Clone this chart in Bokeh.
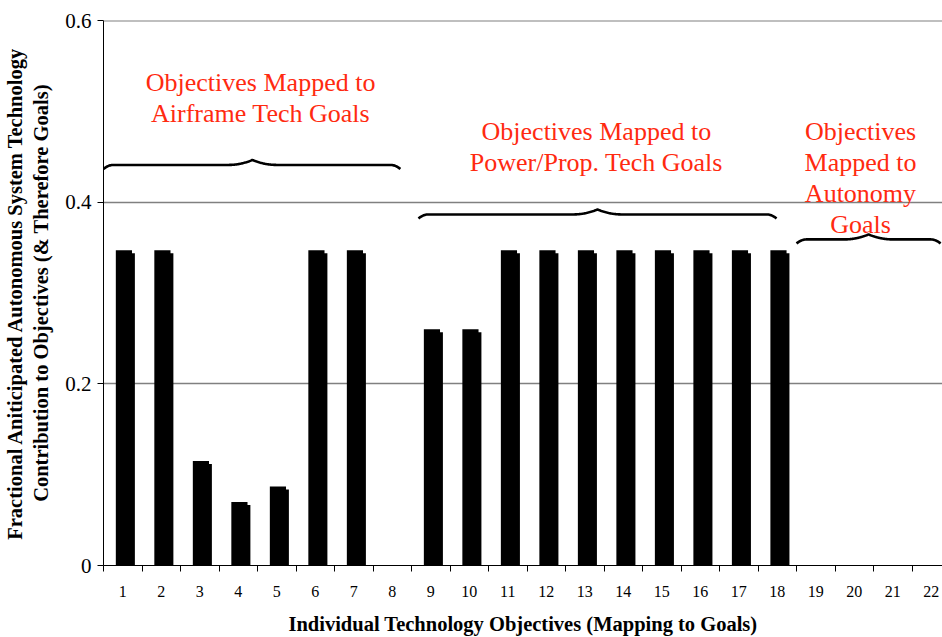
import numpy as np
from bokeh.plotting import figure
from bokeh.models import Range1d, FixedTicker, ColumnDataSource, Span
from bokeh.core.properties import value
from bokeh.embed import file_html
from bokeh.resources import INLINE

# ---- data ----
objectives = list(range(1, 23))
contribution = [0.347, 0.347, 0.115, 0.070, 0.087, 0.347, 0.347, 0.0,
                0.260, 0.260, 0.347, 0.347, 0.347, 0.347, 0.347, 0.347,
                0.347, 0.347, 0.0, 0.0, 0.0, 0.0]
y_ticks = [0, 0.2, 0.4, 0.6]
y_tick_labels = ["0", "0.2", "0.4", "0.6"]

group_lines = [
    ["Objectives Mapped to", "Airframe Tech Goals"],
    ["Objectives Mapped to", "Power/Prop. Tech Goals"],
    ["Objectives", "Mapped to", "Autonomy", "Goals"],
]
group_text_x = [4.58, 13.3, 20.16]
group_text_top = [0.532, 0.478, 0.478]
# brace: start, end, peak x, base y
brace_x0 = [0.5, 8.68, 18.5]
brace_x1 = [8.21, 17.98, 22.24]
brace_xm = [4.37, 13.33, 20.37]
brace_y = [0.441, 0.3865, 0.359]

SERIF = "Liberation Serif"
RED = "#ff2a10"

p = figure(width=942, height=637, output_backend="svg", toolbar_location=None,
           x_range=Range1d(0.5, 22.29), y_range=Range1d(0, 0.6),
           min_border_left=103, min_border_top=20, min_border_bottom=71,
           min_border_right=0)
p.outline_line_color = None
p.background_fill_color = "white"
p.border_fill_color = "white"

# bars (slight 3D look: two overlapping rectangles)
px_y = 0.6 / 546.0
vals = np.array(contribution)
src = ColumnDataSource(dict(
    xb=np.array(objectives) + 0.03,
    xf=np.array(objectives) + 0.105,
    top_b=vals,
    top_f=np.maximum(vals - 3 * px_y, 0),
))
p.vbar(x="xb", top="top_b", bottom=0, width=0.42, source=src,
       fill_color="black", line_color=None)
p.vbar(x="xf", top="top_f", bottom=0, width=0.42, source=src,
       fill_color="black", line_color=None)

# axes
xt = FixedTicker(ticks=objectives, minor_ticks=[i + 0.5 for i in range(0, 23)])
p.xaxis.ticker = xt
p.xaxis.major_tick_out = 0
p.xaxis.major_tick_in = 0
p.xaxis.minor_tick_out = 6
p.xaxis.minor_tick_in = 0
p.xaxis.major_label_text_font = SERIF
p.xaxis.major_label_text_font_size = "16px"
p.xaxis.major_label_text_color = "black"
p.xaxis.major_label_standoff = 14
p.xaxis.axis_label = "Individual Technology Objectives (Mapping to Goals)"
p.xaxis.axis_label_text_font = SERIF
p.xaxis.axis_label_text_font_style = "bold"
p.xaxis.axis_label_text_font_size = "20.5px"
p.xaxis.axis_label_text_color = "black"
p.xaxis.axis_label_standoff = 13
p.xaxis.axis_line_color = "black"

p.yaxis.ticker = FixedTicker(ticks=y_ticks)
p.yaxis.major_label_overrides = {t: l for t, l in zip(y_ticks, y_tick_labels)}
p.yaxis.minor_tick_out = 0
p.yaxis.minor_tick_in = 0
p.yaxis.major_tick_out = 6
p.yaxis.major_tick_in = 0
p.yaxis.major_label_text_font = SERIF
p.yaxis.major_label_text_font_size = "21px"
p.yaxis.major_label_text_color = "black"
p.yaxis.major_label_standoff = 6
p.yaxis.axis_label = ("Fractional Aniticipated Autonomous System Technology\n"
                      "Contribution to Objectives (& Therefore Goals)")
p.yaxis.axis_label_text_font = SERIF
p.yaxis.axis_label_text_font_style = "bold"
p.yaxis.axis_label_text_font_size = "20.5px"
p.yaxis.axis_label_text_color = "black"
p.yaxis.axis_label_standoff = 10
p.yaxis.axis_line_color = "black"

p.xgrid.visible = False
p.ygrid.ticker = FixedTicker(ticks=y_ticks[1:])
p.ygrid.grid_line_color = "#808080"
p.ygrid.grid_line_width = 1.3
p.add_layout(Span(location=y_ticks[-1], dimension="width",
                  line_color="#808080", line_width=2))

# braces
px_x = 1 / 38.5
for x0, x1, xm, yb in zip(brace_x0, brace_x1, brace_xm, brace_y):
    xs = np.linspace(x0, x1, 400)
    w = 24 * px_x
    bump = np.clip(1 - np.abs(xs - xm) / w, 0, None) ** 2
    e = 10 * px_x
    curl = np.clip(1 - (xs - x0) / e, 0, None) ** 2 + np.clip(1 - (x1 - xs) / e, 0, None) ** 2
    ys = yb + 5 * px_y * bump - 4 * px_y * curl
    p.line(xs, ys, line_color="black", line_width=2.6)

# group labels
tx, ty, tt = [], [], []
for lines, x, yt in zip(group_lines, group_text_x, group_text_top):
    for i, s in enumerate(lines):
        tx.append(x)
        ty.append(yt - i * 31 * px_y)
        tt.append(s)
p.text(x=tx, y=ty, text=tt, text_font=value(SERIF), text_font_size="26px",
       text_color=RED, text_align="center", text_baseline="middle")

open("out.html", "w").write(file_html(p, INLINE))
